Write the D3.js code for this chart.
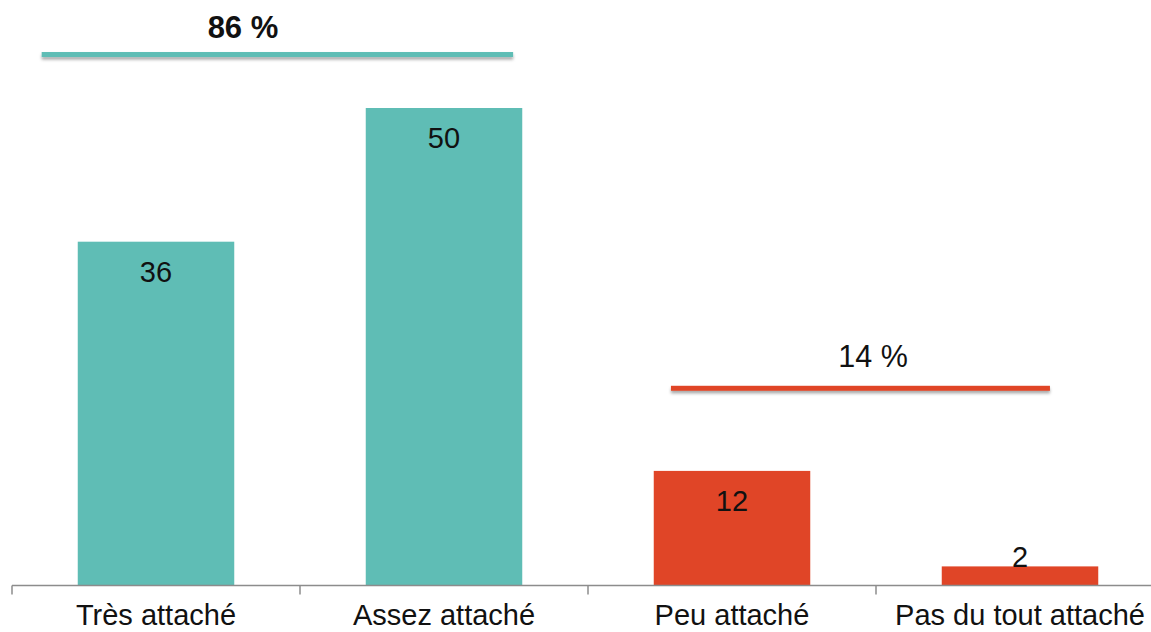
<!DOCTYPE html>
<html>
<head>
<meta charset="utf-8">
<script src="https://cdn.jsdelivr.net/npm/d3@7"></script>
<style>
  html, body { margin: 0; padding: 0; background: #fff; }
  svg { display: block; font-family: "Liberation Sans", Arial, sans-serif; }
</style>
</head>
<body>
<div id="graphicContainer"></div>
<script>
// data
var categories = ["Très attaché", "Assez attaché", "Peu attaché", "Pas du tout attaché"]
var values = [36, 50, 12, 2]
var groupOf = ["pos", "pos", "neg", "neg"]
var totalLabels = ["86 %", "14 %"]
var totalGroups = ["pos", "neg"]

var width = 1151
var height = 632
var colors = {pos: "#5fbdb5", neg: "#e04527"}

var svg = d3.select("#graphicContainer").append("svg")
	.attr("width", width)
	.attr("height", height)

var defs = svg.append("defs")
var shadow = defs.append("filter").attr("id", "shadow")
	.attr("x", "-5%").attr("y", "-100%").attr("width", "110%").attr("height", "350%")
shadow.append("feDropShadow")
	.attr("dx", 0).attr("dy", 2.5).attr("stdDeviation", 1.6)
	.attr("flood-color", "#000").attr("flood-opacity", 0.35)

var baseline = 585.5

var x = d3.scaleBand()
	.domain(categories)
	.range([12, 1164])
	.paddingInner(0.4566)
	.paddingOuter(0.2283)

var y = d3.scaleLinear()
	.domain([0, 50])
	.range([baseline, 108])

// category index scale used to place the summary lines
var xi = d3.scaleLinear().domain([0, categories.length]).range([12, 1164])

// bars
svg.append("g")
	.selectAll("rect")
	.data(categories)
	.enter()
	.append("rect")
	.attr("x", d => x(d))
	.attr("width", x.bandwidth())
	.attr("y", (d, i) => y(values[i]))
	.attr("height", (d, i) => baseline - y(values[i]))
	.attr("fill", (d, i) => colors[groupOf[i]])

// value labels
svg.append("g")
	.selectAll("text")
	.data(categories)
	.enter()
	.append("text")
	.attr("x", d => x(d) + x.bandwidth() / 2)
	.attr("y", (d, i) => {
		var h = baseline - y(values[i])
		return h > 45 ? y(values[i]) + 40 : y(values[i]) + 1
	})
	.attr("text-anchor", "middle")
	.attr("font-size", "29px")
	.attr("fill", "#111")
	.text((d, i) => values[i])

// axis line + ticks at category boundaries
var axis = svg.append("g").attr("stroke", "#8c8c8c").attr("stroke-width", 1.5)
axis.append("line")
	.attr("x1", 12).attr("x2", 1164)
	.attr("y1", baseline).attr("y2", baseline)
axis.selectAll("line.tick")
	.data(d3.range(categories.length + 1))
	.enter()
	.append("line")
	.attr("class", "tick")
	.attr("x1", d => xi(d)).attr("x2", d => xi(d))
	.attr("y1", baseline).attr("y2", baseline + 9)

// category labels
svg.append("g")
	.selectAll("text")
	.data(categories)
	.enter()
	.append("text")
	.attr("x", d => x(d) + x.bandwidth() / 2)
	.attr("y", 625)
	.attr("text-anchor", "middle")
	.attr("font-size", "29px")
	.attr("fill", "#111")
	.text(d => d)

// summary lines (positions in category-index units / value units)
var summaryLayout = {
	pos: {x0: 0.103, x1: 1.74, level: 55.6, labelX: 0.802, labelDy: -17, bold: true, size: 31},
	neg: {x0: 2.288, x1: 3.604, level: 20.65, labelX: 2.99, labelDy: -21, bold: false, size: 30.5}
}

totalGroups.forEach(function(g, i) {
	var l = summaryLayout[g]
	svg.append("rect")
		.attr("x", xi(l.x0))
		.attr("width", xi(l.x1) - xi(l.x0))
		.attr("y", y(l.level) - 2.5)
		.attr("height", 5)
		.attr("fill", colors[g])
		.attr("filter", "url(#shadow)")
	svg.append("text")
		.attr("x", xi(l.labelX))
		.attr("y", y(l.level) + l.labelDy)
		.attr("text-anchor", "middle")
		.attr("font-size", l.size + "px")
		.attr("font-weight", l.bold ? "bold" : "normal")
		.attr("fill", "#111")
		.text(totalLabels[i])
})
</script>
</body>
</html>
